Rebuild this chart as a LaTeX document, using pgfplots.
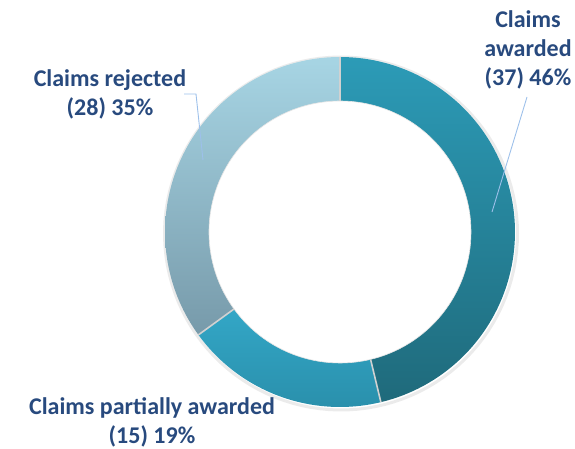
\documentclass[border=0pt]{standalone}
\usepackage{pgfplots}
\pgfplotsset{compat=1.18}
\usepackage{fontspec}
\setmainfont{Carlito}
\definecolor{navy}{HTML}{284A7E}
\definecolor{leader}{HTML}{9DC0EA}
\definecolor{awTop}{HTML}{2C9BB7}
\definecolor{awBot}{HTML}{1F6A7B}
\definecolor{paTop}{HTML}{3AB8DB}
\definecolor{paBot}{HTML}{2A90AC}
\definecolor{reTop}{HTML}{A7D5E4}
\definecolor{reBot}{HTML}{779AAA}
% data
\def\vAwarded{37}
\def\vPartial{15}
\def\vRejected{28}
\pgfmathsetmacro{\total}{\vAwarded+\vPartial+\vRejected}
\pgfmathsetmacro{\aA}{90}
\pgfmathsetmacro{\aB}{90-360*\vAwarded/\total}
\pgfmathsetmacro{\aC}{\aB-360*\vPartial/\total}
\pgfmathsetmacro{\aD}{\aC-360*\vRejected/\total}
\def\cx{340}
\def\cy{217}
\def\Ro{175}
\def\Ri{131}
\begin{document}
\begin{tikzpicture}
\useasboundingbox (0,0) rectangle (575pt,449pt);
\begin{axis}[
  at={(0,0)}, anchor=south west,
  width=575pt, height=449pt, scale only axis,
  xmin=0, xmax=575, ymin=0, ymax=449,
  hide axis, clip=false,
]
% faint shadow
\addplot[draw=black, draw opacity=0.08, line width=3pt, domain=0:360, samples=120, variable=\t]
  ({\cx+1+(\Ro+1.5)*cos(t)},{\cy-1.5+(\Ro+1.5)*sin(t)});
% sectors
\addplot[draw=none, top color=awTop, bottom color=awBot, domain=\aA:\aB, samples=90, variable=\t]
  ({\cx+\Ro*cos(t)},{\cy+\Ro*sin(t)}) -- (axis cs:\cx,\cy) -- cycle;
\addplot[draw=none, top color=paTop, bottom color=paBot, domain=\aB:\aC, samples=50, variable=\t]
  ({\cx+\Ro*cos(t)},{\cy+\Ro*sin(t)}) -- (axis cs:\cx,\cy) -- cycle;
\addplot[draw=none, top color=reTop, bottom color=reBot, domain=\aC:\aD, samples=80, variable=\t]
  ({\cx+\Ro*cos(t)},{\cy+\Ro*sin(t)}) -- (axis cs:\cx,\cy) -- cycle;
% hole
\addplot[draw=black!10, line width=0.6pt, fill=white, domain=0:360, samples=150, variable=\t]
  ({\cx+\Ri*cos(t)},{\cy+\Ri*sin(t)}) -- cycle;
% separators
\foreach \a in {\aA,\aB,\aC}{
  \addplot[draw=black!18, line width=1.6pt, domain=\Ri:\Ro, samples=2, variable=\r]
    ({\cx+\r*cos(\a)},{\cy+\r*sin(\a)});
}
% leader lines
\addplot[leader, line width=0.9pt] coordinates {(527,352) (492,237)};
\addplot[leader, line width=0.9pt] coordinates {(184,355) (196,355) (203,289)};
% labels
\node[align=center, text=navy, font=\fontsize{24}{29}\selectfont\bfseries] at (axis cs:528,399)
  {Claims\\awarded\\(37) 46\%};
\node[align=center, text=navy, font=\fontsize{24}{29}\selectfont\bfseries] at (axis cs:110,355)
  {Claims rejected\\(28) 35\%};
\node[align=center, text=navy, font=\fontsize{24}{29}\selectfont\bfseries] at (axis cs:152,27)
  {Claims partially awarded\\(15) 19\%};
\end{axis}
\end{tikzpicture}
\end{document}
